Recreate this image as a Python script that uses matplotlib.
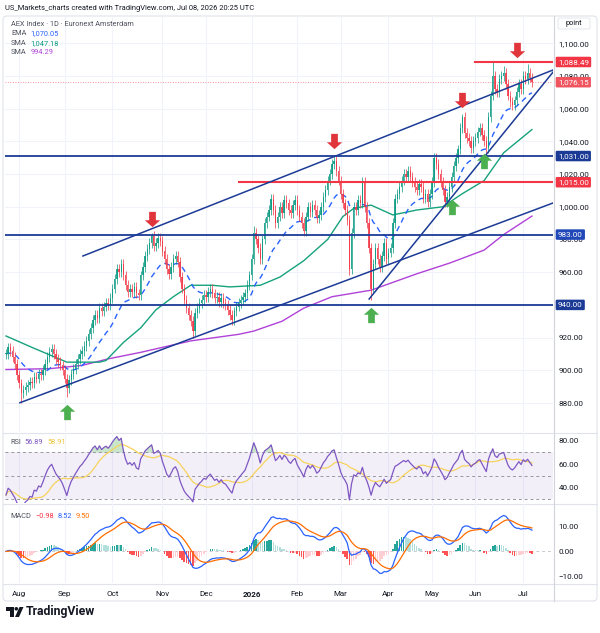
import numpy as np
import pandas as pd
import matplotlib
matplotlib.use("Agg")
import matplotlib.pyplot as plt
from matplotlib.path import Path
from matplotlib.patches import FancyBboxPatch, Circle, Polygon
from matplotlib.transforms import offset_copy, blended_transform_factory

plt.rcParams['font.family'] = ['Roboto', 'DejaVu Sans']

# ---- data ----
holidays = ['2025-12-25', '2025-12-26', '2026-01-01', '2026-04-03', '2026-04-06', '2026-05-01']
dates = pd.bdate_range('2025-07-24', '2026-07-08', freq='C', holidays=holidays)

closes = [
    910, 914, 912, 908, 904, 897, 892, 886, 888, 890,
    891, 893, 892, 896, 895, 898, 897, 900, 904, 908,
    911, 913, 910, 907, 905, 903, 900, 895, 889, 894,
    898, 901, 904, 907, 910, 912, 915, 918, 922, 926,
    931, 934, 932, 938, 936, 939, 941, 940, 944, 950,
    956, 962, 960, 965, 958, 952, 948, 950, 948, 951,
    947, 946, 958, 963, 970, 974, 978, 982, 976, 978,
    981, 979, 973, 968, 962, 959, 963, 968, 970, 966,
    957, 950, 943, 938, 934, 930, 924, 935, 938, 941,
    943, 946, 945, 948, 950, 947, 944, 945, 942, 944,
    941, 940, 937, 934, 931, 936, 939, 941, 943, 945,
    947, 952, 958, 968, 984, 980, 975, 968, 980, 990,
    994, 998, 1005, 998, 990, 994, 1000, 996, 1004, 1002,
    998, 996, 1001, 1004, 998, 994, 990, 985, 994, 1000,
    997, 1001, 998, 993, 995, 1000, 1006, 1010, 1016, 1020,
    1026, 1028, 1022, 1016, 1008, 1002, 998, 992, 962, 984,
    1000, 998, 1004, 1002, 1015, 1000, 990, 975, 950, 965,
    975, 968, 963, 970, 978, 968, 972, 975, 990, 1005,
    1008, 1012, 1016, 1020, 1018, 1022, 1018, 1015, 1012, 1010,
    1014, 1012, 1005, 1008, 1003, 1008, 1015, 1030, 1026, 1020,
    1015, 1010, 1003, 1006, 1012, 1018, 1025, 1030, 1035, 1048,
    1055, 1045, 1042, 1040, 1036, 1040, 1042, 1046, 1048, 1044,
    1040, 1036, 1055, 1068, 1080, 1072, 1070, 1078, 1080, 1082,
    1075, 1068, 1064, 1062, 1065, 1070, 1075, 1072, 1080, 1078,
    1082, 1079, 1076.15,
]
high_marks = {67: 984, 114: 988, 151: 1031.5, 210: 1057, 224: 1088.49, 229: 1086, 240: 1087}
low_marks = {7: 880, 28: 884, 86: 920, 158: 958, 168: 943}
wick = 3.0

# sampled moving averages (bar index, value)
sma50_idx = [0, 12, 28, 43, 46, 54, 62, 69, 77, 85, 95, 103, 117, 126, 137, 148, 155, 160, 168, 178, 189, 201, 210, 220, 229, 242]
sma50_val = [921, 914, 905, 905, 906, 917, 926, 937, 945, 952, 952, 951, 952, 957, 967, 980, 994, 999, 1001, 995, 998, 1000, 1008, 1016, 1033, 1047.18]
sma200_idx = [0, 20, 35, 47, 62, 85, 107, 114, 127, 137, 150, 168, 189, 204, 220, 229, 242]
sma200_val = [900.5, 901, 903, 907, 911, 918, 922, 924, 930, 938, 945, 949, 959, 965.5, 973.5, 983, 994.29]

# drawings
h_blue = [1031.00, 983.00, 940.00]
res_1015 = (107, 1015.00)
res_1088 = (216, 1088.49)
trend_lower = [(6.4, 880.2), (251.7, 1002.3)]
trend_upper = [(35.4, 969.9), (251.7, 1083.6)]
trend_steep = [(167.1, 943.6), (251.7, 1082.3)]
arrows_down = [67, 151, 210]
arrows_up = [28, 168, 205, 220]

month_labels = ['Aug', 'Sep', 'Oct', 'Nov', 'Dec', '2026', 'Feb', 'Mar', 'Apr', 'May', 'Jun', 'Jul']
price_ticks = [880, 900, 920, 940, 960, 980, 1000, 1020, 1040, 1060, 1080, 1100]

n = min(len(dates), len(closes))
close = np.array(closes[:n], dtype=float)
idx = np.arange(n)
opn = np.concatenate([[close[0]], close[:-1]])
high = np.maximum(opn, close) + wick
low = np.minimum(opn, close) - wick
for k, v in high_marks.items():
    high[k] = v
for k, v in low_marks.items():
    low[k] = v


def ema(x, span):
    a = 2.0 / (span + 1)
    out = np.empty(len(x))
    out[0] = x[0]
    for k in range(1, len(x)):
        out[k] = a * x[k] + (1 - a) * out[k - 1]
    return out


ema20 = ema(close, 20)

d = np.diff(close, prepend=close[0])
up = np.clip(d, 0, None)
dn = np.clip(-d, 0, None)
au = np.empty(n)
ad = np.empty(n)
au[0] = up[1:15].mean()
ad[0] = dn[1:15].mean()
for k in range(1, n):
    au[k] = (au[k - 1] * 13 + up[k]) / 14
    ad[k] = (ad[k - 1] * 13 + dn[k]) / 14
rsi = 100 - 100 / (1 + au / ad)
rsi_ma = pd.Series(rsi).rolling(14, min_periods=1).mean().values

macd = ema(close, 12) - ema(close, 26)
signal = ema(macd, 9)
hist = macd - signal

# ---- figure ----
W, H = 600, 633
fig = plt.figure(figsize=(6, 6.33), dpi=100)
fig.patch.set_facecolor('white')

bg = fig.add_axes([0, 0, 1, 1], zorder=-1)
bg.set_xlim(0, W)
bg.set_ylim(H, 0)
bg.axis('off')
bg.add_patch(FancyBboxPatch((3, 16), 594, 585, boxstyle='round,pad=0,rounding_size=4',
                            fc='none', ec='#e0e3eb', lw=0.8))
for yy in (432.5, 503.5, 583.5):
    bg.plot([3, 597], [yy, yy], color='#e0e3eb', lw=0.8)
bg.plot([553.5, 553.5], [16, 601], color='#d1d4dc', lw=0.8)


def px_axes(l, t, r, b):
    a = fig.add_axes([l / W, 1 - b / H, (r - l) / W, (b - t) / H])
    a.set_facecolor('none')
    for s in a.spines.values():
        s.set_visible(False)
    a.set_xlim(-0.46, 251.7)
    a.yaxis.tick_right()
    a.tick_params(axis='y', length=0, pad=4, labelsize=5.8, labelcolor='#131722')
    a.tick_params(axis='x', length=0, labelbottom=False)
    return a


ax = px_axes(5, 17, 553, 432)
ax_rsi = px_axes(5, 433, 553, 503)
ax_macd = px_axes(5, 504, 553, 583)

month_pos = [int(np.where((dates[:n].year == m.year) & (dates[:n].month == m.month))[0][0])
             for m in pd.date_range('2025-08-01', '2026-07-01', freq='MS')]
for a in (ax, ax_rsi, ax_macd):
    for p in month_pos:
        a.axvline(p, color='#f0f3fa', lw=0.8, zorder=0)

# main pane
ax.set_ylim(862.3, 1116)
ax.set_yticks(price_ticks)
ax.set_yticklabels([f'{v:,.2f}' for v in price_ticks])
for v in price_ticks:
    ax.axhline(v, color='#f0f3fa', lw=0.8, zorder=0)

up_mask = close >= opn
col = np.where(up_mask, '#089981', '#f23645')
ax.vlines(idx, low, high, colors=col, lw=0.6, alpha=0.85, zorder=3)
ax.bar(idx, np.maximum(np.abs(close - opn), 0.4), bottom=np.minimum(opn, close),
       width=0.62, color=col, alpha=0.85, lw=0, zorder=3)

ax.plot(sma200_idx, sma200_val, color='#b042d8', lw=1.0, zorder=2)
ax.plot(sma50_idx, sma50_val, color='#16a27c', lw=1.0, zorder=2)
ax.plot(idx, ema20, color='#2962ff', lw=1.0, ls=(0, (4, 3)), zorder=2)

for v in h_blue:
    ax.axhline(v, color='#1c3b96', lw=1.3, zorder=4)
ax.plot([res_1015[0], 251.7], [res_1015[1]] * 2, color='#f23645', lw=1.5, zorder=4)
ax.plot([res_1088[0], 251.7], [res_1088[1]] * 2, color='#f23645', lw=1.5, zorder=4)
ax.axhline(close[-1], color='#f23645', lw=0.6, ls=(0, (1, 2)), alpha=0.7, zorder=1)
for line in (trend_lower, trend_upper, trend_steep):
    ax.plot([line[0][0], line[1][0]], [line[0][1], line[1][1]], color='#1c3b96', lw=1.1, zorder=4)

arrow = Path([(-0.22, 0.5), (0.22, 0.5), (0.22, -0.05), (0.5, -0.05), (0, -0.5),
              (-0.5, -0.05), (-0.22, -0.05), (-0.22, 0.5)], closed=True)
arrow_up = Path(arrow.vertices * [1, -1], closed=True)
for k in arrows_down:
    tr = offset_copy(ax.transData, fig=fig, y=14, units='dots')
    ax.plot(k, high[k], marker=arrow, ms=11, color='#e0353b', mew=0, transform=tr, zorder=6)
tr = offset_copy(ax.transData, fig=fig, y=12, units='dots')
ax.plot(235, res_1088[1], marker=arrow, ms=11, color='#e0353b', mew=0, transform=tr, zorder=6)
for k in arrows_up:
    tr = offset_copy(ax.transData, fig=fig, y=-15, units='dots')
    ax.plot(k, low[k], marker=arrow_up, ms=11, color='#4caf50', mew=0, transform=tr, zorder=6)

btr = blended_transform_factory(ax.transAxes, ax.transData)
boxes = [(1088.49, '1,088.49', '#f23645'), (1076.15, '1,076.15', '#f0545f'),
         (1031.00, '1,031.00', '#1c3b96'), (1015.00, '1,015.00', '#f23645'),
         (983.00, '983.00', '#2148b8'), (940.00, '940.00', '#1c3b96')]
for v, s, c in boxes:
    ax.text(1.009, v, s, transform=btr, ha='left', va='center', fontsize=5.8, color='white',
            clip_on=False, zorder=10,
            bbox=dict(boxstyle='round,pad=0.28,rounding_size=0.15', fc=c, ec='none'))

# RSI pane
ax_rsi.set_ylim(26.4, 86.8)
ax_rsi.set_yticks([40, 60, 80])
ax_rsi.set_yticklabels(['40.00', '60.00', '80.00'])
ax_rsi.axhspan(30, 70, color='#7e57c2', alpha=0.09, lw=0)
for v in (70, 50, 30):
    ax_rsi.axhline(v, color='#9598a1', lw=0.7, ls=(0, (3, 3)))
ax_rsi.fill_between(idx, 70, rsi, where=rsi > 70, color='#4caf50', alpha=0.3, lw=0, interpolate=True)
ax_rsi.plot(idx, rsi_ma, color='#f7d35c', lw=0.9)
ax_rsi.plot(idx, rsi, color='#7e57c2', lw=0.9)

# MACD pane
ax_macd.set_ylim(-12.8, 19.2)
ax_macd.set_yticks([-10, 0, 10])
ax_macd.set_yticklabels(['\u221210.00', '0.00', '10.00'])
ax_macd.axhline(0, color='#c8cbd2', lw=0.7, ls=(0, (3, 3)), zorder=0)
hcol = []
for k in range(n):
    prev = hist[k - 1] if k else 0
    if hist[k] >= 0:
        hcol.append('#26a69a' if hist[k] >= prev else '#b2dfdb')
    else:
        hcol.append('#ff5252' if hist[k] < prev else '#ffcdd2')
ax_macd.bar(idx, hist, width=0.7, color=hcol, lw=0)
ax_macd.plot(idx, macd, color='#2962ff', lw=0.9)
ax_macd.plot(idx, signal, color='#ff6d00', lw=0.9)

ax_macd.set_xticks(month_pos)
ax_macd.set_xticklabels(month_labels)
ax_macd.tick_params(axis='x', labelbottom=True, pad=6, labelsize=5.8, labelcolor='#131722')
for t in ax_macd.get_xticklabels():
    if t.get_text() == '2026':
        t.set_fontweight('bold')

# ---- texts ----
renderer = fig.canvas.get_renderer()


def ftext(x, y, s, **kw):
    kw.setdefault('fontsize', 5.3)
    return fig.text(x / W, 1 - y / H, s, va='center', ha='left', **kw)


def legend_row(x, y, pieces, gap=4):
    # place coloured pieces one after another
    for s, c in pieces:
        t = ftext(x, y, s, color=c)
        x += t.get_window_extent(renderer).width + gap


ftext(5, 8, 'US_Markets_charts created with TradingView.com, Jul 08, 2026 20:25 UTC',
      color='#131722', fontsize=5.4)
ftext(11, 24, 'AEX Index \u00b7 1D \u00b7 Euronext Amsterdam', color='#50535e')
legend_row(11, 33.7, [('EMA', '#50535e'), ('1,070.05', '#2962ff')])
legend_row(11, 43.3, [('SMA', '#50535e'), ('1,047.18', '#089981')])
legend_row(11, 52.7, [('SMA', '#50535e'), ('994.29', '#b042d8')])
legend_row(10, 443, [('RSI', '#50535e'), ('56.89', '#7e57c2'), ('58.91', '#f0c43c')])
legend_row(10, 516, [('MACD', '#50535e'), ('\u22120.98', '#f23645'), ('8.52', '#2962ff'),
                     ('9.50', '#ff6d00')])

bg.add_patch(FancyBboxPatch((558, 18), 32, 11, boxstyle='round,pad=0,rounding_size=2',
                            fc='white', ec='#e0e3eb', lw=0.6))
bg.text(574, 23.5, 'point', ha='center', va='center', fontsize=5.3, color='#131722')

# TradingView logo
bg.add_patch(Polygon([(6, 607), (14, 607), (14, 617), (10, 617), (10, 610.5), (6, 610.5)],
                     closed=True, fc='#131722', ec='none'))
bg.add_patch(Circle((16.3, 608.8), 1.8, fc='#131722', ec='none'))
bg.add_patch(Polygon([(19.5, 607), (23.5, 607), (19, 617), (15, 617)], closed=True,
                     fc='#131722', ec='none'))
bg.text(25.5, 612, 'TradingView', ha='left', va='center', fontsize=8.8, fontweight='bold',
        color='#131722')

fig.savefig('out.png', dpi=100)
